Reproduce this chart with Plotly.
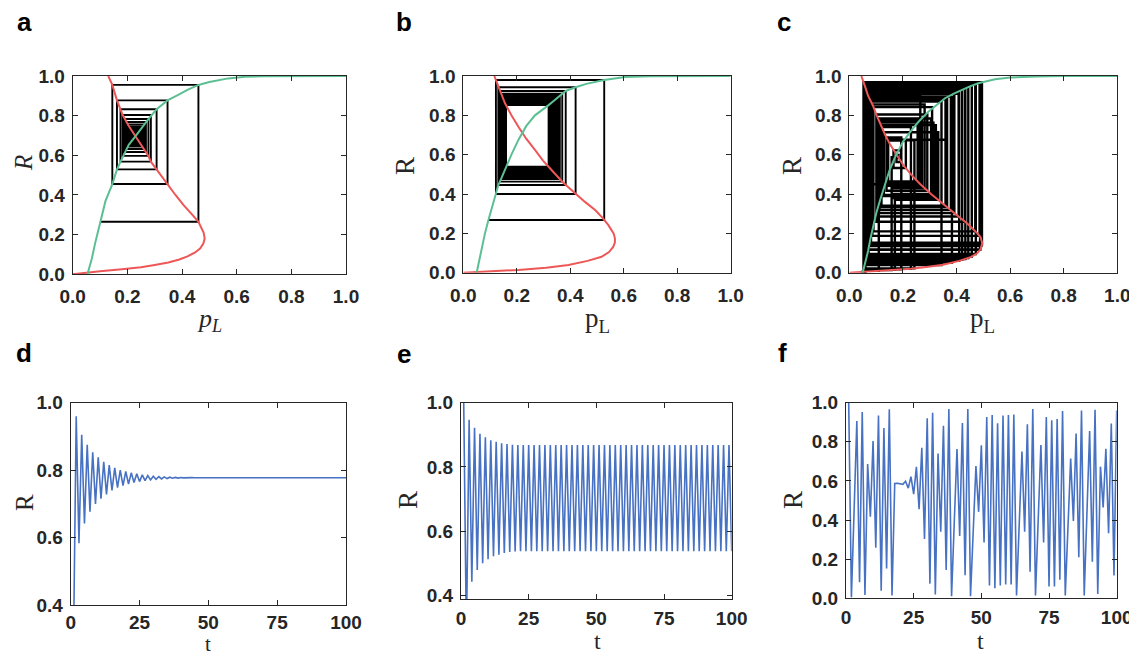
import plotly.graph_objects as go

# page offset (browser body margin) compensation
OFF = 8
W, H = 1137 - OFF, 657 - OFF

# ---------------- data ----------------
# panel a curves
green_a_p = [0.054, 0.07, 0.082, 0.1, 0.12, 0.145, 0.162, 0.175, 0.19, 0.205, 0.23, 0.256, 0.277, 0.307, 0.347, 0.386, 0.42, 0.46, 0.5, 0.569, 0.63, 0.7, 0.8, 1.0]
green_a_R = [0.0, 0.08, 0.156, 0.265, 0.37, 0.455, 0.529, 0.568, 0.615, 0.653, 0.697, 0.746, 0.783, 0.832, 0.877, 0.905, 0.93, 0.955, 0.97, 0.988, 0.996, 0.999, 1.0, 1.0]
red_a_R = [0, 0.008, 0.015, 0.025, 0.035, 0.047, 0.06, 0.075, 0.09, 0.11, 0.13, 0.155, 0.18, 0.21, 0.24, 0.265, 0.3, 0.35, 0.4, 0.455, 0.529, 0.568, 0.597, 0.65, 0.694, 0.75, 0.803, 0.832, 0.877, 0.955, 1.0]
red_a_p = [0, 0.05, 0.1, 0.18, 0.25, 0.3, 0.35, 0.39, 0.42, 0.448, 0.466, 0.478, 0.483, 0.479, 0.47, 0.46, 0.438, 0.405, 0.376, 0.347, 0.307, 0.286, 0.277, 0.252, 0.23, 0.204, 0.183, 0.175, 0.162, 0.145, 0.13]
cob_a_start = 0.1
cob_a_R = [0.265, 0.955, 0.455, 0.877, 0.529, 0.832, 0.568, 0.803, 0.597, 0.783, 0.617, 0.768, 0.632, 0.756, 0.644, 0.746, 0.653, 0.738, 0.661, 0.731, 0.667, 0.725, 0.672, 0.72, 0.676, 0.716, 0.68, 0.712, 0.683, 0.709, 0.685, 0.706, 0.687, 0.704, 0.689, 0.702, 0.69, 0.7, 0.691, 0.699, 0.692, 0.698, 0.693, 0.697, 0.6935, 0.696, 0.694, 0.695]
cob_a_p = [0.46, 0.145, 0.347, 0.162, 0.307, 0.175, 0.286, 0.183, 0.277, 0.19, 0.268, 0.196, 0.262, 0.201, 0.256, 0.205, 0.252, 0.209, 0.248, 0.212, 0.245, 0.215, 0.243, 0.217, 0.241, 0.219, 0.239, 0.221, 0.237, 0.222, 0.236, 0.224, 0.235, 0.225, 0.234, 0.226, 0.233, 0.227, 0.232, 0.228, 0.231, 0.228, 0.23, 0.229, 0.23, 0.229, 0.23, 0.229]

# panel b curves
green_b_p = [0.05, 0.06, 0.07, 0.081, 0.094, 0.11, 0.122, 0.131, 0.141, 0.152, 0.16, 0.18, 0.206, 0.235, 0.268, 0.295, 0.319, 0.34, 0.361, 0.383, 0.42, 0.46, 0.527, 0.605, 0.7, 0.8, 1.0]
green_b_R = [0.0, 0.07, 0.135, 0.2, 0.268, 0.345, 0.40, 0.446, 0.476, 0.512, 0.539, 0.6, 0.675, 0.745, 0.80, 0.83, 0.852, 0.875, 0.90, 0.924, 0.943, 0.96, 0.98, 0.995, 0.999, 1.0, 1.0]
red_b_R = [0, 0.005, 0.014, 0.025, 0.039, 0.06, 0.081, 0.105, 0.132, 0.155, 0.175, 0.2, 0.243, 0.28, 0.319, 0.36, 0.404, 0.46, 0.522, 0.57, 0.624, 0.68, 0.742, 0.8, 0.861, 0.93, 1.0]
red_b_p = [0, 0.081, 0.206, 0.31, 0.393, 0.465, 0.517, 0.545, 0.561, 0.567, 0.567, 0.562, 0.542, 0.52, 0.493, 0.455, 0.418, 0.372, 0.33, 0.298, 0.268, 0.236, 0.206, 0.18, 0.156, 0.135, 0.116]
cob_b_start = 0.094
cob_b_R = [0.268, 0.98, 0.40, 0.943, 0.446, 0.924, 0.463, 0.91, 0.476, 0.90, 0.486, 0.892, 0.494, 0.885, 0.501, 0.879, 0.507, 0.874, 0.512, 0.869, 0.516, 0.866, 0.52, 0.863, 0.523, 0.861, 0.526, 0.859, 0.529, 0.857, 0.531, 0.856, 0.533, 0.855, 0.535, 0.854, 0.536, 0.853, 0.537, 0.853, 0.538, 0.852, 0.539, 0.852, 0.539, 0.852]
cob_b_p = [0.527, 0.122, 0.42, 0.131, 0.383, 0.137, 0.37, 0.141, 0.361, 0.144, 0.354, 0.147, 0.349, 0.149, 0.344, 0.151, 0.34, 0.152, 0.337, 0.154, 0.334, 0.155, 0.331, 0.156, 0.329, 0.156, 0.327, 0.157, 0.326, 0.158, 0.324, 0.158, 0.323, 0.158, 0.322, 0.159, 0.321, 0.159, 0.32, 0.159, 0.32, 0.16, 0.319, 0.16, 0.319, 0.16]

# panel c curves
green_c_p = [0.05, 0.06, 0.07, 0.08, 0.09, 0.1, 0.115, 0.13, 0.15, 0.17, 0.2, 0.233, 0.26, 0.295, 0.33, 0.357, 0.39, 0.419, 0.45, 0.481, 0.544, 0.6, 0.7, 0.8, 1.0]
green_c_R = [0.0, 0.05, 0.11, 0.18, 0.24, 0.3, 0.37, 0.43, 0.52, 0.585, 0.665, 0.726, 0.77, 0.818, 0.858, 0.887, 0.91, 0.929, 0.947, 0.963, 0.983, 0.992, 0.998, 1.0, 1.0]
red_c_R = [0, 0.005, 0.01, 0.015, 0.02, 0.03, 0.04, 0.06, 0.08, 0.1, 0.12, 0.15, 0.18, 0.2, 0.25, 0.3, 0.35, 0.4, 0.45, 0.5, 0.55, 0.6, 0.65, 0.7, 0.75, 0.8, 0.85, 0.9, 0.95, 1.0]
red_c_p = [0, 0.06, 0.11, 0.17, 0.23, 0.295, 0.35, 0.41, 0.455, 0.478, 0.49, 0.496, 0.49, 0.478, 0.44, 0.395, 0.35, 0.305, 0.265, 0.23, 0.2, 0.175, 0.153, 0.134, 0.117, 0.102, 0.088, 0.07, 0.058, 0.045]

# time axis
t = list(range(1, 101))

# panel d series
R_d = [0.27, 0.96, 0.583, 0.905, 0.642, 0.875, 0.677, 0.853, 0.70, 0.838,
       0.715, 0.825, 0.728, 0.815, 0.74, 0.807, 0.748, 0.80, 0.754, 0.796,
       0.759, 0.792, 0.763, 0.789, 0.766, 0.786, 0.769, 0.784, 0.771, 0.782,
       0.773, 0.781, 0.774, 0.780, 0.775, 0.779, 0.776, 0.7785, 0.7765, 0.778,
       0.777, 0.7779, 0.7771, 0.7778, 0.7772, 0.7777, 0.7773, 0.7776, 0.7774, 0.7775,
       0.7775, 0.7775, 0.7775, 0.7775, 0.7775, 0.7775, 0.7775, 0.7775, 0.7775, 0.7775,
       0.7775, 0.7775, 0.7775, 0.7775, 0.7775, 0.7775, 0.7775, 0.7775, 0.7775, 0.7775,
       0.7775, 0.7775, 0.7775, 0.7775, 0.7775, 0.7775, 0.7775, 0.7775, 0.7775, 0.7775,
       0.7775, 0.7775, 0.7775, 0.7775, 0.7775, 0.7775, 0.7775, 0.7775, 0.7775, 0.7775,
       0.7775, 0.7775, 0.7775, 0.7775, 0.7775, 0.7775, 0.7775, 0.7775, 0.7775, 0.7775]

# panel e series
R_e = [1.0, 0.27, 0.947, 0.443, 0.922, 0.479, 0.903, 0.50, 0.892, 0.513,
       0.883, 0.522, 0.878, 0.527, 0.874, 0.532, 0.871, 0.535, 0.869, 0.537,
       0.868, 0.538, 0.868, 0.538, 0.868, 0.538, 0.868, 0.538, 0.868, 0.538,
       0.868, 0.538, 0.868, 0.538, 0.868, 0.538, 0.868, 0.538, 0.868, 0.538,
       0.868, 0.538, 0.868, 0.538, 0.868, 0.538, 0.868, 0.538, 0.868, 0.538,
       0.868, 0.538, 0.868, 0.538, 0.868, 0.538, 0.868, 0.538, 0.868, 0.538,
       0.868, 0.538, 0.868, 0.538, 0.868, 0.538, 0.868, 0.538, 0.868, 0.538,
       0.868, 0.538, 0.868, 0.538, 0.868, 0.538, 0.868, 0.538, 0.868, 0.538,
       0.868, 0.538, 0.868, 0.538, 0.868, 0.538, 0.868, 0.538, 0.868, 0.538,
       0.868, 0.538, 0.868, 0.538, 0.868, 0.538, 0.868, 0.538, 0.868, 0.538]

# panel f series
R_f = [1.0, 0.005, 0.45, 0.906, 0.082, 0.952, 0.017, 0.687, 0.417, 0.804,
       0.259, 0.935, 0.039, 0.87, 0.153, 0.966, 0.014, 0.587, 0.588, 0.587,
       0.583, 0.598, 0.563, 0.622, 0.532, 0.672, 0.456, 0.77, 0.303, 0.92,
       0.075, 0.949, 0.02, 0.74, 0.34, 0.882, 0.145, 0.968, 0.01, 0.39,
       0.763, 0.318, 0.896, 0.118, 0.968, 0.01, 0.34, 0.676, 0.442, 0.782,
       0.286, 0.927, 0.065, 0.937, 0.051, 0.895, 0.065, 0.934, 0.07, 0.937,
       0.07, 0.94, 0.014, 0.38, 0.75, 0.34, 0.89, 0.136, 0.968, 0.014,
       0.4, 0.784, 0.286, 0.927, 0.06, 0.91, 0.06, 0.917, 0.095, 0.957,
       0.015, 0.37, 0.714, 0.395, 0.842, 0.21, 0.96, 0.014, 0.43, 0.855,
       0.187, 0.964, 0.022, 0.673, 0.464, 0.765, 0.333, 0.893, 0.116, 0.96]

# panel c cobweb: p_L of the red curve at each R_f level (t = 1..99)
cob_c_p = [0.045, 0.06, 0.265, 0.069, 0.457, 0.058, 0.194, 0.139, 0.291, 0.101,
           0.432, 0.061, 0.344, 0.081, 0.495, 0.054, 0.158, 0.181, 0.181, 0.181,
           0.183, 0.176, 0.193, 0.165, 0.211, 0.145, 0.261, 0.111, 0.392, 0.065,
           0.444, 0.058, 0.23, 0.12, 0.359, 0.076, 0.495, 0.053, 0.11, 0.314,
           0.113, 0.379, 0.071, 0.489, 0.053, 0.11, 0.359, 0.143, 0.271, 0.107,
           0.408, 0.063, 0.421, 0.061, 0.383, 0.072, 0.421, 0.062, 0.433, 0.061,
           0.433, 0.06, 0.158, 0.323, 0.117, 0.359, 0.074, 0.493, 0.053, 0.158,
           0.305, 0.107, 0.408, 0.063, 0.41, 0.068, 0.41, 0.066, 0.472, 0.056,
           0.17, 0.332, 0.129, 0.309, 0.09, 0.47, 0.055, 0.158, 0.281, 0.086,
           0.486, 0.054, 0.243, 0.144, 0.255, 0.113, 0.365, 0.073, 0.488]

frac_ticks = [0.0, 0.2, 0.4, 0.6, 0.8, 1.0]
time_ticks = [0, 25, 50, 75, 100]

# ---------------- styles ----------------
GREEN = "#5cbf93"
RED = "#ee5757"
BLUE = "#4771c2"
AXC = "#262626"
TICKFONT = dict(family="Liberation Sans, Arial, Helvetica, sans-serif", size=19, color=AXC, weight="bold")
SERIF = "Liberation Serif, DejaVu Serif, serif"
SANS = "Liberation Sans, Arial, Helvetica, sans-serif"


def staircase(x0, levels, verts):
    xs, ys = [], []
    if x0 is not None:
        xs.append(x0)
        ys.append(levels[0])
    for k, xv in enumerate(verts):
        xs.append(xv)
        ys.append(levels[k])
        if k + 1 < len(levels):
            xs.append(xv)
            ys.append(levels[k + 1])
    return xs, ys


def dom_x(a, b):
    return [(a - OFF) / W, (b - OFF) / W]


def dom_y(top, bottom):
    return [1 - (bottom - OFF) / H, 1 - (top - OFF) / H]


def axis(domain, rng, tickvals, fmt, anchor, standoff):
    return dict(domain=domain, range=rng, tickvals=tickvals, tickformat=fmt,
                showline=True, linecolor=AXC, linewidth=1, mirror="allticks",
                ticks="inside", ticklen=5, tickwidth=1, tickcolor=AXC,
                showgrid=False, zeroline=False, tickfont=TICKFONT,
                anchor=anchor, ticklabelstandoff=standoff, fixedrange=True,
                automargin=False, ticklabeloverflow="allow")


fig = go.Figure()


def add_line(x, y, color, width, ax):
    fig.add_trace(go.Scatter(x=x, y=y, mode="lines",
                             line=dict(color=color, width=width),
                             xaxis="x" + ax, yaxis="y" + ax,
                             showlegend=False, hoverinfo="skip"))


# panel a
xa, ya = staircase(cob_a_start, cob_a_R, cob_a_p)
add_line(xa, ya, "black", 1.9, "")
add_line(red_a_p, red_a_R, RED, 2, "")
add_line(green_a_p, green_a_R, GREEN, 2, "")
# panel b
xb, yb = staircase(cob_b_start, cob_b_R, cob_b_p)
add_line(xb, yb, "black", 1.9, "2")
add_line(red_b_p, red_b_R, RED, 2, "2")
add_line(green_b_p, green_b_R, GREEN, 2, "2")
# panel c
xc, yc = staircase(cob_c_p[0], R_f[1:], cob_c_p[1:])
add_line(xc, yc, "black", 2.4, "3")
add_line(red_c_p, red_c_R, RED, 2, "3")
add_line(green_c_p, green_c_R, GREEN, 2, "3")
# panels d, e, f
add_line(t, R_d, BLUE, 1.6, "4")
add_line(t, R_e, BLUE, 1.6, "5")
add_line(t, R_f, BLUE, 1.6, "6")

layout = dict(width=W, height=H,
              margin=dict(l=0, r=0, t=0, b=0, pad=0, autoexpand=False),
              paper_bgcolor="white", plot_bgcolor="white", showlegend=False)

layout["xaxis"] = axis(dom_x(72.7, 346), [0, 1], frac_ticks, ".1f", "y", 5)
layout["yaxis"] = axis(dom_y(76, 274.3), [0, 1], frac_ticks, ".1f", "x", 3)
layout["xaxis2"] = axis(dom_x(463.3, 730.7), [0, 1], frac_ticks, ".1f", "y2", 5)
layout["yaxis2"] = axis(dom_y(76, 272.7), [0, 1], frac_ticks, ".1f", "x2", 3)
layout["xaxis3"] = axis(dom_x(849.3, 1117.3), [0, 1], frac_ticks, ".1f", "y3", 5)
layout["yaxis3"] = axis(dom_y(76, 272.7), [0, 1], frac_ticks, ".1f", "x3", 3)
layout["xaxis4"] = axis(dom_x(70.7, 346), [0, 100], time_ticks, "d", "y4", 0)
layout["yaxis4"] = axis(dom_y(402.7, 605), [0.4, 1.0], [0.4, 0.6, 0.8, 1.0], ".1f", "x4", 3)
layout["xaxis5"] = axis(dom_x(461, 731.7), [0, 100], time_ticks, "d", "y5", 2)
layout["yaxis5"] = axis(dom_y(402.7, 599.3), [0.388, 1.0], [0.4, 0.6, 0.8, 1.0], ".1f", "x5", 3)
layout["xaxis6"] = axis(dom_x(846, 1116.7), [0, 100], time_ticks, "d", "y6", 2)
layout["yaxis6"] = axis(dom_y(402.7, 598.3), [0, 1], frac_ticks, ".1f", "x6", 3)

ann = []


def text(x, y, s, size, family, angle=0, color="black"):
    ann.append(dict(x=(x - OFF) / W, y=1 - (y - OFF) / H, xref="paper", yref="paper", text=s,
                    showarrow=False, xanchor="center", yanchor="middle",
                    textangle=angle, font=dict(size=size, family=family, color=color)))


for lab, x, y in [("a", 24, 22), ("b", 404, 22), ("c", 784, 22),
                  ("d", 24, 353), ("e", 404, 354), ("f", 782, 353)]:
    text(x, y, "<b>" + lab + "</b>", 26, SANS)

text(209, 320, "<i>p</i><sub><i>L</i></sub>", 26, SERIF, color=AXC)
text(24, 163, "<i>R</i>", 25, SERIF, -90, AXC)
text(597, 320, "p<sub>L</sub>", 27, SERIF, color=AXC)
text(405, 166, "R", 27, SERIF, -90, AXC)
text(983, 320, "p<sub>L</sub>", 27, SERIF, color=AXC)
text(792, 166, "R", 27, SERIF, -90, AXC)
text(208, 644, "t", 21, SERIF, color=AXC)
text(24, 503, "R", 25, SERIF, -90, AXC)
text(597, 641, "t", 24, SERIF, color=AXC)
text(408, 500, "R", 27, SERIF, -90, AXC)
text(980, 641, "t", 24, SERIF, color=AXC)
text(793, 500, "R", 27, SERIF, -90, AXC)

layout["annotations"] = ann
fig.update_layout(**layout)
fig.write_html("out.html")
